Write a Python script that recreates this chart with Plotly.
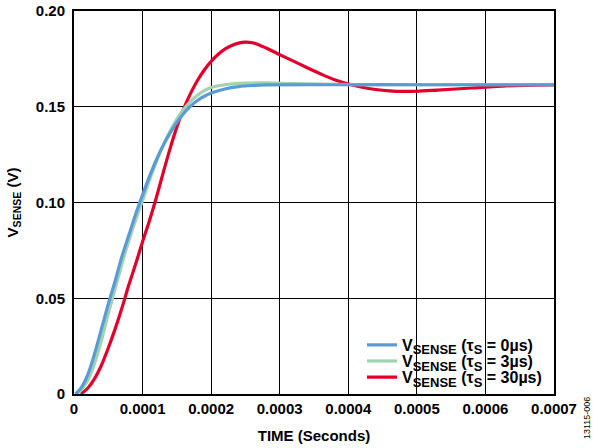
import plotly.graph_objects as go

# time in microseconds
t_blue = [2, 5, 10, 20, 30, 40, 50, 60, 70, 80, 90, 100, 110, 120, 130, 140, 150, 160, 170, 180, 190, 200, 220, 240, 260, 280, 400, 500, 600, 700]
v_blue = [0.0, 0.001, 0.003, 0.010, 0.021, 0.034, 0.047, 0.059, 0.072, 0.083, 0.094, 0.104, 0.1135, 0.1222, 0.1298, 0.1362, 0.1418, 0.1465, 0.1503, 0.1533, 0.1555, 0.1572, 0.1593, 0.1605, 0.1611, 0.1614, 0.1615, 0.1615, 0.1615, 0.1615]

t_green = [4, 10, 20, 30, 40, 50, 60, 70, 80, 90, 100, 110, 120, 130, 140, 150, 160, 170, 180, 190, 200, 220, 250, 280, 320, 400, 500, 600, 700]
v_green = [0.0, 0.002, 0.007, 0.016, 0.028, 0.042, 0.055, 0.068, 0.080, 0.091, 0.101, 0.1115, 0.1212, 0.1298, 0.1372, 0.1435, 0.1487, 0.1528, 0.156, 0.1584, 0.160, 0.1615, 0.1623, 0.1625, 0.1621, 0.1616, 0.1615, 0.1615, 0.1615]

t_red = [10, 20, 30, 40, 50, 60, 70, 80, 90, 100, 110, 120, 130, 140, 150, 160, 170, 180, 190, 200, 210, 220, 230, 240, 250, 260, 270, 280, 290, 300, 320, 340, 360, 380, 400, 420, 440, 460, 480, 500, 530, 580, 630, 700]
v_red = [0.0, 0.003, 0.008, 0.015, 0.024, 0.034, 0.045, 0.057, 0.068, 0.0795, 0.0905, 0.1025, 0.1155, 0.128, 0.1395, 0.149, 0.157, 0.1637, 0.1692, 0.1737, 0.1773, 0.1801, 0.182, 0.1832, 0.1837, 0.1834, 0.1823, 0.1807, 0.179, 0.1772, 0.1738, 0.1704, 0.1671, 0.1641, 0.1619, 0.1602, 0.159, 0.1583, 0.158, 0.1581, 0.1587, 0.1598, 0.1609, 0.1614]

SUB = "<sub><span style='font-size:13px'>%s</span></sub>"
names = ["V" + SUB % "SENSE" + " (τ" + SUB % "S" + " = 0µs)",
         "V" + SUB % "SENSE" + " (τ" + SUB % "S" + " = 3µs)",
         "V" + SUB % "SENSE" + " (τ" + SUB % "S" + " = 30µs)"]
colors = ["#5b9bd5", "#9fd3b1", "#e2002b"]

x_ticks = [0, 0.0001, 0.0002, 0.0003, 0.0004, 0.0005, 0.0006, 0.0007]
x_labels = ["0", "0.0001", "0.0002", "0.0003", "0.0004", "0.0005", "0.0006", "0.0007"]
y_ticks = [0, 0.05, 0.10, 0.15, 0.20]
y_labels = ["0", "0.05", "0.10", "0.15", "0.20"]

FAM = "Liberation Sans, Arial, sans-serif"

fig = go.Figure()
series = [(t_blue, v_blue), (t_green, v_green), (t_red, v_red)]
legends = ["legend", "legend2", "legend3"]
order = [2, 1, 0]
for i in order:
    t, v = series[i]
    fig.add_trace(go.Scatter(
        x=[ti * 1e-6 for ti in t], y=v, mode="lines", name=names[i],
        line=dict(color=colors[i], width=3.2, shape="spline", smoothing=0.8),
        legend=legends[i],
    ))

leg_y = [0.128, 0.086, 0.044]
leg_common = dict(x=0.60, xanchor="left", yanchor="middle",
                  bgcolor="rgba(255,255,255,0)", borderwidth=0,
                  font=dict(family=FAM, size=16, color="black", weight="bold"),
                  itemwidth=30)

fig.update_layout(
    width=593, height=448,
    margin=dict(l=74, r=39, t=11, b=54),
    paper_bgcolor="white", plot_bgcolor="white",
    font=dict(family=FAM, size=15, color="black"),
    showlegend=True,
    legend=dict(y=leg_y[0], **leg_common),
    legend2=dict(y=leg_y[1], **leg_common),
    legend3=dict(y=leg_y[2], **leg_common),
)
fig.update_xaxes(
    range=[0, 0.0007], tickvals=x_ticks, ticktext=["<b>%s</b>" % s for s in x_labels],
    tickfont=dict(family=FAM, size=15), automargin=False,
    showgrid=True, gridcolor="black", gridwidth=1,
    showline=True, linecolor="black", linewidth=2, mirror=True,
    zeroline=False, ticks="",
    title=dict(text="<b>TIME (Seconds)</b>", standoff=14, font=dict(size=15)),
)
fig.update_yaxes(
    range=[0, 0.2], tickvals=y_ticks, ticktext=["<b>%s</b>" % s for s in y_labels],
    tickfont=dict(family=FAM, size=15), automargin=False,
    ticklabelstandoff=4,
    showgrid=True, gridcolor="black", gridwidth=1,
    showline=True, linecolor="black", linewidth=2, mirror=True,
    zeroline=False, ticks="",
    title=dict(text="<b>V<sub>SENSE</sub> (V)</b>", standoff=14, font=dict(size=15)),
)
fig.add_annotation(text="13115-006", x=1.0, y=0.0, xref="paper", yref="paper",
                   xanchor="left", yanchor="bottom", xshift=26, yshift=-47,
                   textangle=-90, showarrow=False,
                   font=dict(family=FAM, size=9, color="black"))

fig.write_html("out.html")
